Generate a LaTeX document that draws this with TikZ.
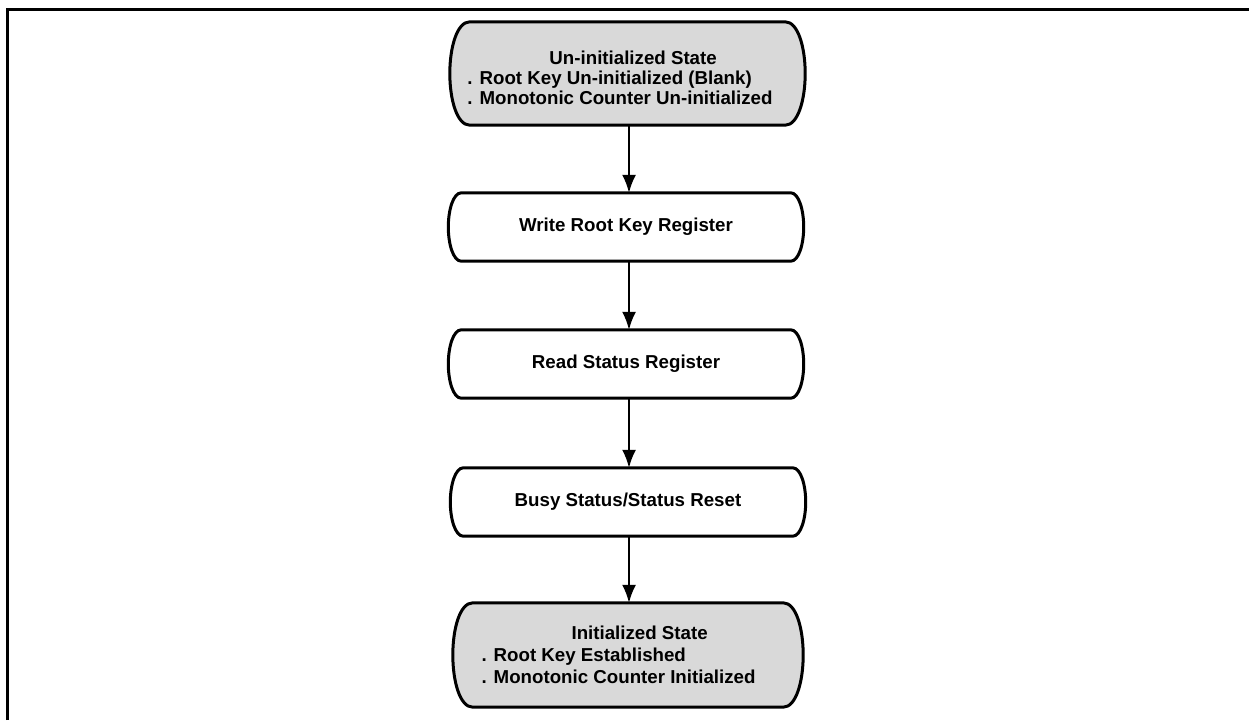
\documentclass[tikz,border=0pt]{standalone}
\usepackage{fontspec}
\setmainfont{Liberation Sans}
\usetikzlibrary{arrows.meta,backgrounds}
\newcommand\termpath[5]{%
  \path[outline,fill=#2] ([xshift=#3]#1.north west) -- ([xshift=-#3]#1.north east)
    .. controls ([xshift=-#4]#1.north east) and ([yshift=-#5]#1.north east) .. (#1.east)
    .. controls ([yshift=#5]#1.south east) and ([xshift=-#4]#1.south east) .. ([xshift=-#3]#1.south east)
    -- ([xshift=#3]#1.south west)
    .. controls ([xshift=#4]#1.south west) and ([yshift=#5]#1.south west) .. (#1.west)
    .. controls ([yshift=-#5]#1.north west) and ([xshift=#4]#1.north west) .. cycle;}
\begin{document}
\begin{tikzpicture}[x=1pt,y=-1pt,
  txt/.style={font=\fontsize{18.7}{20}\selectfont\bfseries},
  term/.style={draw=none, inner sep=0pt, minimum width=355pt, txt},
  lbl/.style={txt, inner sep=0pt},
  flow/.style={-{Latex[length=18pt,width=14pt]}, line width=2pt},
  outline/.style={draw=black, line width=3pt}]
\useasboundingbox (0,0) rectangle (1249,720);
\draw[line width=3pt] (7.5,720) -- (7.5,9.5) -- (1249,9.5);

\node[term, minimum height=103pt,
  label={[lbl, xshift=-7.5pt, yshift=-6.5pt]center:{\begin{tabular}{@{}l@{}}\hspace{82pt}Un-initialized State\\. Root Key Un-initialized (Blank)\\. Monotonic Counter Un-initialized\end{tabular}}}]
  (s0) at (627.5,73.5) {};
\node[term, minimum height=68pt] (s1) at (626,227) {Write Root Key Register};
\node[term, minimum height=68pt] (s2) at (626,364) {Read Status Register};
\node[term, minimum height=68pt] (s3) at (628,502) {Busy Status/Status Reset};
\node[term, minimum width=350pt, minimum height=104pt,
  label={[lbl, xshift=-9.5pt, yshift=-2pt]center:{\begin{tabular}{@{}l@{}}\hspace{90pt}Initialized State\\[2pt]. Root Key Established\\[2pt]. Monotonic Counter Initialized\end{tabular}}}]
  (s4) at (628,655) {};

\begin{pgfonlayer}{background}
  \termpath{s0}{black!15}{20pt}{7pt}{26pt}
  \termpath{s1}{white}{13pt}{5pt}{17pt}
  \termpath{s2}{white}{13pt}{5pt}{17pt}
  \termpath{s3}{white}{13pt}{5pt}{17pt}
  \termpath{s4}{black!15}{20pt}{7pt}{26pt}
\end{pgfonlayer}

\draw[flow] ([xshift=1.5pt]s0.south) -- ([xshift=3pt]s1.north);
\draw[flow] ([xshift=3pt]s1.south) -- ([xshift=3pt]s2.north);
\draw[flow] ([xshift=3pt]s2.south) -- ([xshift=1pt]s3.north);
\draw[flow] ([xshift=1pt]s3.south) -- ([xshift=1pt]s4.north);
\end{tikzpicture}
\end{document}
